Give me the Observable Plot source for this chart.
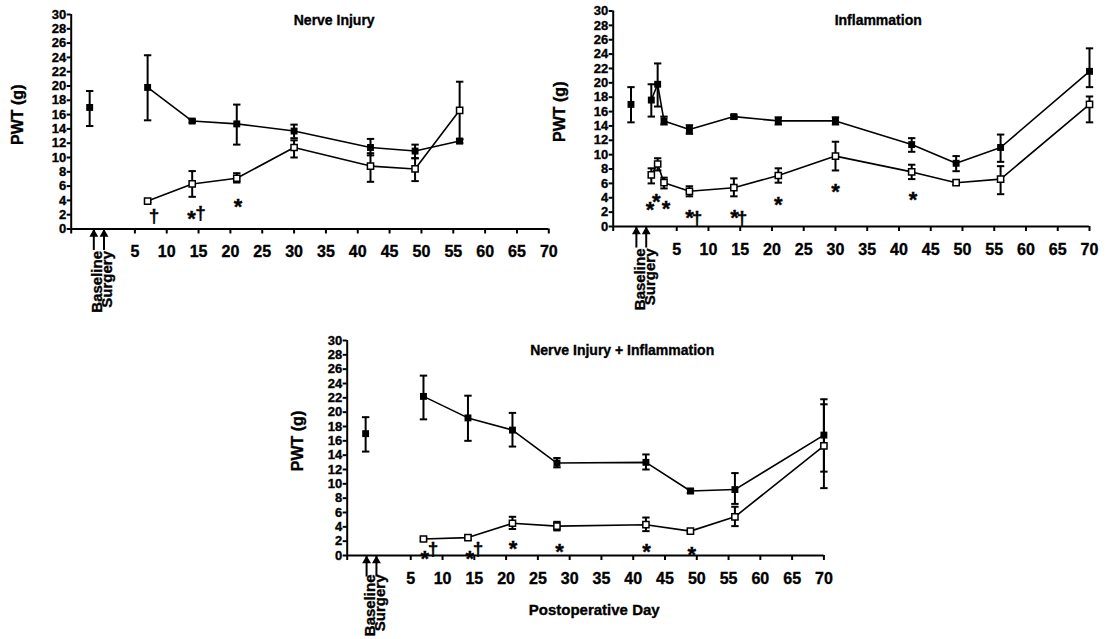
<!DOCTYPE html>
<html><head><meta charset="utf-8">
<script src="https://cdn.jsdelivr.net/npm/d3@7"></script>
<script src="https://cdn.jsdelivr.net/npm/@observablehq/plot@0.6"></script>
<style>
body{margin:0;background:#fff;}
#root{position:relative;width:1108px;height:639px;overflow:hidden;background:#fff;}
#root svg{position:absolute;overflow:visible;}
#root svg text{font-family:"Liberation Sans",Arial,sans-serif;font-weight:700 !important;fill:#000;stroke:#000;stroke-width:0.35px;}
</style></head><body><div id="root"></div>
<script>
// ---------- shared ----------
const xTicks = [-5, 5, 10, 15, 20, 25, 30, 35, 40, 45, 50, 55, 60, 65, 70];
const yTicks = [0, 2, 4, 6, 8, 10, 12, 14, 16, 18, 20, 22, 24, 26, 28, 30];
const markerLabels = ["Baseline", "Surgery"];
const yLabel = "PWT (g)";
const xLabel = "Postoperative Day";

// ---------- Panel 1: Nerve Injury ----------
const nerveTitle = "Nerve Injury";
const nerveBaseX = [-2.1];
const nerveBaseY = [17.0];
const nerveBaseLo = [14.4];
const nerveBaseHi = [19.3];
const nerveDays = [7, 14, 21, 30, 42, 49, 56];
const nerveFilled = [19.8, 15.1, 14.7, 13.7, 11.4, 10.9, 12.3];
const nerveFilledLo = [15.2, 14.9, 11.8, 12.7, 10.3, 9.9, 12.0];
const nerveFilledHi = [24.3, 15.3, 17.4, 14.6, 12.6, 11.8, 12.6];
const nerveOpen = [3.9, 6.3, 7.1, 11.4, 8.8, 8.4, 16.6];
const nerveOpenLo = [3.7, 4.5, 6.5, 10.0, 6.6, 6.7, 12.5];
const nerveOpenHi = [4.1, 8.1, 7.8, 12.4, 10.6, 9.9, 20.6];
const nerveMarkX = [-1.45, 0.15];
const nerveSigX = [8.0, 13.9, 15.3, 21.2];
const nerveSigY = [1.9, 2.15, 2.3, 3.8];
const nerveSigText = ["†", "*", "†", "*"];

// ---------- Panel 2: Inflammation ----------
const inflamTitle = "Inflammation";
const inflamBaseX = [-2.2];
const inflamBaseY = [17.0];
const inflamBaseLo = [14.5];
const inflamBaseHi = [19.4];
const inflamDays = [1, 2, 3, 7, 14, 21, 30, 42, 49, 56, 70];
const inflamFilled = [17.6, 19.8, 14.7, 13.5, 15.3, 14.7, 14.7, 11.4, 8.8, 11.0, 21.6];
const inflamFilledLo = [15.3, 16.7, 14.2, 12.9, 15.0, 14.2, 14.2, 10.4, 7.7, 9.0, 19.4];
const inflamFilledHi = [19.8, 22.7, 15.3, 14.1, 15.5, 15.2, 15.2, 12.3, 9.8, 12.8, 24.8];
const inflamOpen = [7.2, 8.7, 6.1, 4.9, 5.4, 7.1, 9.8, 7.6, 6.1, 6.6, 17.0];
const inflamOpenLo = [6.0, 7.8, 5.3, 4.2, 4.2, 6.1, 7.8, 6.6, 5.8, 4.5, 14.5];
const inflamOpenHi = [8.1, 9.5, 6.8, 5.6, 6.7, 8.1, 11.8, 8.6, 6.4, 8.4, 18.1];
const inflamMarkX = [-1.35, 0.2];
const inflamSigX = [0.8, 1.8, 3.3, 7.0, 8.2, 14.1, 15.3, 21.0, 30.0, 42.2];
const inflamSigY = [3.0, 4.2, 3.15, 2.0, 1.15, 2.0, 1.15, 3.7, 5.6, 4.4];
const inflamSigText = ["*", "*", "*", "*", "†", "*", "†", "*", "*", "*"];

// ---------- Panel 3: Nerve Injury + Inflammation ----------
const comboTitle = "Nerve Injury + Inflammation";
const comboBaseX = [-2.1];
const comboBaseY = [17.0];
const comboBaseLo = [14.5];
const comboBaseHi = [19.3];
const comboDays = [7, 14, 21, 28, 42, 49, 56, 70];
const comboFilled = [22.2, 19.2, 17.5, 12.9, 13.0, 9.0, 9.2, 16.8];
const comboFilledLo = [19.0, 16.0, 15.2, 12.3, 12.0, 8.7, 7.2, 11.7];
const comboFilledHi = [25.1, 22.3, 19.9, 13.6, 14.1, 9.3, 11.5, 21.8];
const comboOpen = [2.3, 2.5, 4.5, 4.1, 4.3, 3.4, 5.4, 15.3];
const comboOpenLo = [2.1, 2.2, 3.7, 3.5, 3.4, 3.2, 4.1, 9.4];
const comboOpenHi = [2.5, 2.8, 5.4, 4.7, 5.3, 3.6, 6.8, 21.1];
const comboMarkX = [-1.95, -0.4];
const comboSigX = [7.2, 8.5, 14.3, 15.6, 21.1, 28.4, 42.1, 49.2];
const comboSigY = [0.3, 0.9, 0.3, 0.9, 1.7, 1.2, 1.3, 0.9];
const comboSigText = ["*", "†", "*", "†", "*", "*", "*", "*"];

// ---------- helpers ----------
const capSymbol = {
  draw(context, size) {
    const r = Math.sqrt(size / Math.PI);
    context.moveTo(-r, 0);
    context.lineTo(r, 0);
  }
};
const rowsOf = (xs, ys, lo, hi) => xs.map((x, i) => ({x, y: ys[i], lo: lo[i], hi: hi[i]}));
const FONT = "'Liberation Sans', Arial, sans-serif";

function errorMarks(rows) {
  return [
    Plot.ruleX(rows, {x: "x", y1: "lo", y2: "hi", stroke: "black", strokeWidth: 2}),
    Plot.dot(rows, {x: "x", y: "lo", symbol: capSymbol, r: 3.7, fill: "none", stroke: "black", strokeWidth: 2}),
    Plot.dot(rows, {x: "x", y: "hi", symbol: capSymbol, r: 3.7, fill: "none", stroke: "black", strokeWidth: 2})
  ];
}

function panel(cfg) {
  const base = rowsOf(cfg.baseX, cfg.baseY, cfg.baseLo, cfg.baseHi);
  const filled = rowsOf(cfg.days, cfg.filled, cfg.filledLo, cfg.filledHi);
  const open = rowsOf(cfg.days, cfg.open, cfg.openLo, cfg.openHi);
  const sig = cfg.sigX.map((x, i) => ({x, y: cfg.sigY[i], t: cfg.sigText[i]}));
  const txt = {fontFamily: FONT, fontWeight: "bold", fill: "black"};
  const marks = [
    // axes
    Plot.ruleY([0], {stroke: "black", strokeWidth: 2}),
    Plot.ruleX([-5], {stroke: "black", strokeWidth: 2}),
    Plot.axisY({ticks: yTicks, tickSize: 4, tickPadding: 1, fontSize: 13, label: null, strokeWidth: 2, ...txt}),
    Plot.axisX({ticks: xTicks, tickSize: 5, tickPadding: 12, fontSize: 16, label: null, strokeWidth: 2, ...txt,
      tickFormat: d => d < 0 ? "" : String(d)}),
    // baseline / surgery arrows
    Plot.ruleX(cfg.markX, {x: d => d, y1: 0, y2: -3, stroke: "black", strokeWidth: 2}),
    Plot.dot(cfg.markX, {x: d => d, y: 0, symbol: "triangle", r: 3.3, fill: "black", dy: 5.2}),
    Plot.text(markerLabels, {x: (d, i) => cfg.markX[i], y: 0, text: d => d, rotate: -90,
      textAnchor: "end", lineAnchor: "middle", dx: 3.5, dy: cfg.labelGap, fontSize: 15, ...txt}),
    // error bars
    ...errorMarks(base), ...errorMarks(filled), ...errorMarks(open),
    // lines
    Plot.line(filled, {x: "x", y: "y", stroke: "black", strokeWidth: 1.6}),
    Plot.line(open, {x: "x", y: "y", stroke: "black", strokeWidth: 1.6}),
    // squares
    Plot.dot(base, {x: "x", y: "y", symbol: "square", r: 3.9, fill: "black"}),
    Plot.dot(filled, {x: "x", y: "y", symbol: "square", r: 3.9, fill: "black"}),
    Plot.dot(open, {x: "x", y: "y", symbol: "square", r: 3.5, fill: "white", stroke: "black", strokeWidth: 1.5}),
    // significance marks
    Plot.text(sig.filter(d => d.t === "*"), {x: "x", y: "y", text: "t", fontSize: 22, dy: 5.5, ...txt}),
    Plot.text(sig.filter(d => d.t !== "*"), {x: "x", y: "y", text: "t", fontSize: 19, dy: 0, ...txt,
      fontFamily: "'DejaVu Sans', sans-serif"}),
    // titles and labels
    Plot.text([cfg.title], {frameAnchor: "top-left", textAnchor: "middle", lineAnchor: "middle",
      dx: cfg.titleDx, dy: cfg.titleDy, fontSize: 14, ...txt}),
    Plot.text([yLabel], {frameAnchor: "left", rotate: -90, textAnchor: "middle", lineAnchor: "middle",
      dx: cfg.yLabelDx, dy: -7, fontSize: 16, ...txt})
  ];
  if (cfg.xLabel) {
    marks.push(Plot.text([cfg.xLabel], {frameAnchor: "bottom-left", textAnchor: "middle", lineAnchor: "middle",
      dx: 247, dy: 55, fontSize: 15, ...txt}));
  }
  const svg = Plot.plot({
    width: cfg.width, height: cfg.height,
    marginTop: cfg.mt, marginBottom: cfg.mb, marginLeft: cfg.ml, marginRight: cfg.mr,
    x: {domain: [-5, 70]},
    y: {domain: [0, 30]},
    style: {fontFamily: FONT, fontWeight: "bold", background: "transparent", overflow: "visible", color: "black"},
    marks
  });
  svg.style.left = cfg.left + "px";
  svg.style.top = cfg.top + "px";
  document.getElementById("root").appendChild(svg);
}

panel({
  left: 0, top: 0, width: 560, height: 320, mt: 14, mb: 91.5, ml: 70.7, mr: 11.7,
  title: nerveTitle, titleDx: 263, titleDy: 6, labelGap: 22, yLabelDx: -53,
  baseX: nerveBaseX, baseY: nerveBaseY, baseLo: nerveBaseLo, baseHi: nerveBaseHi,
  days: nerveDays, filled: nerveFilled, filledLo: nerveFilledLo, filledHi: nerveFilledHi,
  open: nerveOpen, openLo: nerveOpenLo, openHi: nerveOpenHi,
  markX: nerveMarkX, sigX: nerveSigX, sigY: nerveSigY, sigText: nerveSigText
});
panel({
  left: 540, top: 0, width: 568, height: 320, mt: 10.5, mb: 94, ml: 72.7, mr: 19,
  title: inflamTitle, titleDx: 265, titleDy: 10, labelGap: 22, yLabelDx: -53,
  baseX: inflamBaseX, baseY: inflamBaseY, baseLo: inflamBaseLo, baseHi: inflamBaseHi,
  days: inflamDays, filled: inflamFilled, filledLo: inflamFilledLo, filledHi: inflamFilledHi,
  open: inflamOpen, openLo: inflamOpenLo, openHi: inflamOpenHi,
  markX: inflamMarkX, sigX: inflamSigX, sigY: inflamSigY, sigText: inflamSigText
});
panel({
  left: 276, top: 320, width: 560, height: 319, mt: 20, mb: 84, ml: 70.7, mr: 12.6,
  title: comboTitle, titleDx: 275, titleDy: 10, labelGap: 19, xLabel: xLabel, yLabelDx: -49,
  baseX: comboBaseX, baseY: comboBaseY, baseLo: comboBaseLo, baseHi: comboBaseHi,
  days: comboDays, filled: comboFilled, filledLo: comboFilledLo, filledHi: comboFilledHi,
  open: comboOpen, openLo: comboOpenLo, openHi: comboOpenHi,
  markX: comboMarkX, sigX: comboSigX, sigY: comboSigY, sigText: comboSigText
});
</script></body></html>
